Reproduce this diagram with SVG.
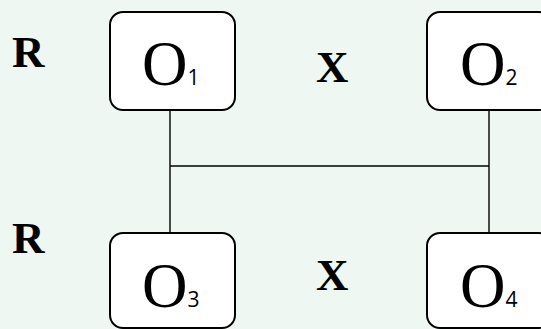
<svg xmlns="http://www.w3.org/2000/svg" width="541" height="329" viewBox="0 0 541 329">
<style>
.box{fill:#ffffff;stroke:#000;stroke-width:2}
.conn{stroke:#000;stroke-width:1.4;fill:none}
.o{font-family:"Liberation Serif","Times New Roman",serif;font-size:63px;fill:#000}
.sub{font-family:"Open Sans","Liberation Sans",sans-serif;font-size:21px;fill:#000}
.lbl{font-family:"Liberation Serif","Times New Roman",serif;font-size:45px;font-weight:bold;fill:#000}
</style>
<rect width="541" height="329" fill="#eef7f2"/>
<g id="connectors">
<line class="conn" x1="170" y1="110" x2="170" y2="234"/>
<line class="conn" x1="489" y1="110" x2="489" y2="234"/>
<line class="conn" x1="170" y1="166" x2="489" y2="166"/>
</g>
<g id="O1">
<rect class="box" x="110" y="12" width="125" height="98" rx="13"/>
<text x="142" y="85"><tspan class="o">O</tspan><tspan class="sub">1</tspan></text>
</g>
<g id="O2">
<rect class="box" x="427" y="12" width="125" height="98" rx="13"/>
<text x="460" y="85"><tspan class="o">O</tspan><tspan class="sub">2</tspan></text>
</g>
<g id="O3">
<rect class="box" x="110" y="233" width="125" height="95" rx="13"/>
<text x="142" y="307"><tspan class="o">O</tspan><tspan class="sub">3</tspan></text>
</g>
<g id="O4">
<rect class="box" x="427" y="233" width="125" height="95" rx="13"/>
<text x="460" y="307"><tspan class="o">O</tspan><tspan class="sub">4</tspan></text>
</g>
<g id="labels">
<text class="lbl" x="12" y="67">R</text>
<text class="lbl" x="12" y="253">R</text>
<text class="lbl" x="316" y="82">X</text>
<text class="lbl" x="316" y="290">X</text>
</g>
</svg>
